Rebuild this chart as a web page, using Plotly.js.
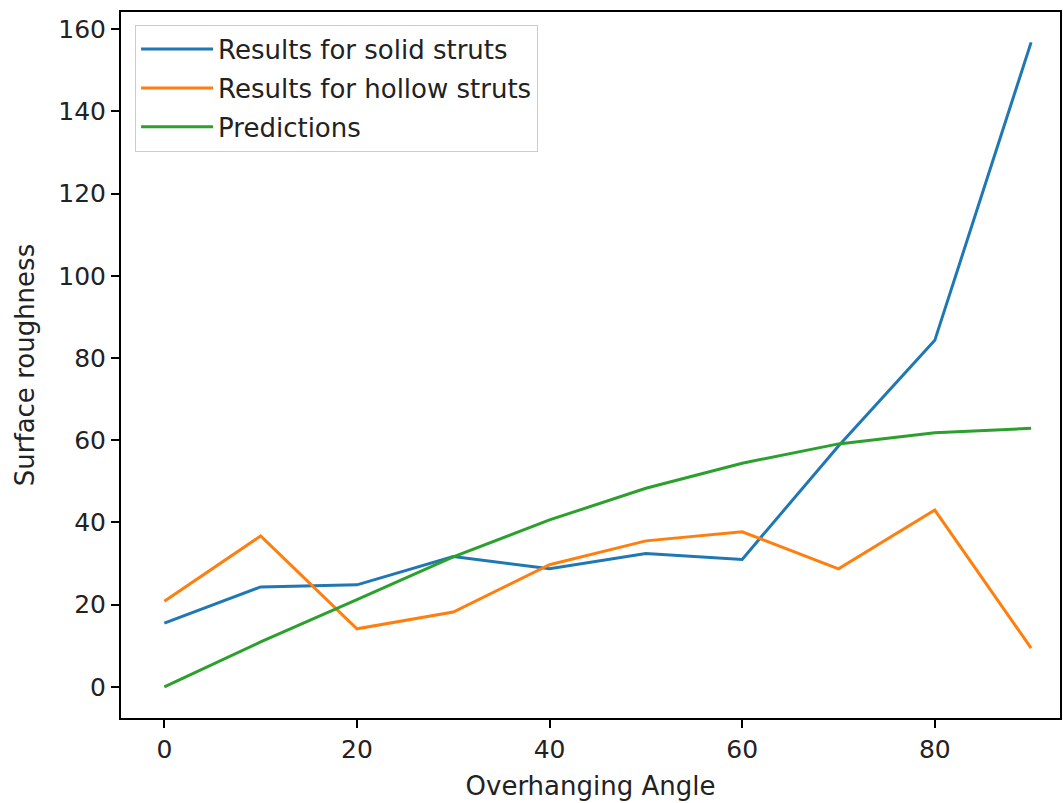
<!DOCTYPE html>
<html>
<head>
<meta charset="utf-8">
<script src="https://cdn.plot.ly/plotly-3.0.1.min.js"></script>
<style>html,body{margin:0;padding:0;background:#fff;}#chart{width:1063px;height:803px;}</style>
</head>
<body>
<div id="chart"></div>
<script>
const angles = [0, 10, 20, 30, 40, 50, 60, 70, 80, 90];
const solidStruts = [15.5, 24.3, 24.8, 31.7, 28.7, 32.4, 31.0, 58.6, 84.3, 156.8];
const hollowStruts = [20.8, 36.7, 14.1, 18.2, 29.7, 35.5, 37.7, 28.7, 43.0, 9.4];
const predictions = [0, 10.9, 21.2, 31.6, 40.6, 48.3, 54.4, 59.1, 61.8, 62.9];
const seriesNames = ["Results for solid struts", "Results for hollow struts", "Predictions"];
const xTicks = [0, 20, 40, 60, 80];
const yTicks = [0, 20, 40, 60, 80, 100, 120, 140, 160];

const colors = ["#1f77b4", "#ff7f0e", "#2ca02c"];
const seriesData = [solidStruts, hollowStruts, predictions];
const traces = seriesData.map((ys, i) => ({
  x: angles, y: ys, type: "scatter", mode: "lines", name: seriesNames[i],
  legendgroup: "g" + i,
  line: {color: colors[i], width: 3}
}));

const font = {family: "DejaVu Sans", size: 25, color: "#222"};
const axisCommon = {
  showgrid: false, zeroline: false, showline: true, mirror: true,
  linecolor: "#000", linewidth: 2, ticks: "outside", ticklen: 8, tickwidth: 2,
  tickcolor: "#000", tickfont: font
};
const layout = {
  width: 1063, height: 803,
  margin: {l: 121, r: 3, t: 12, b: 85},
  paper_bgcolor: "#fff", plot_bgcolor: "#fff",
  font: font,
  showlegend: true,
  legend: {
    x: 0.015, y: 0.982, xanchor: "left", yanchor: "top",
    traceorder: "grouped", tracegroupgap: 2, itemwidth: 72,
    bgcolor: "rgba(255,255,255,0.8)", bordercolor: "#cccccc", borderwidth: 1,
    font: {family: "DejaVu Sans", size: 26, color: "#222"}
  },
  xaxis: Object.assign({}, axisCommon, {
    range: [-4.5, 93.0], tickvals: xTicks, ticktext: xTicks.map(String),
    title: {text: "Overhanging Angle", font: {family: "DejaVu Sans", size: 26, color: "#222"}, standoff: 14}
  }),
  yaxis: Object.assign({}, axisCommon, {
    range: [-7.6, 164.2], tickvals: yTicks, ticktext: yTicks.map(String),
    title: {text: "Surface roughness", font: {family: "DejaVu Sans", size: 26, color: "#222"}, standoff: 16}
  })
};
Plotly.newPlot("chart", traces, layout, {displayModeBar: false, staticPlot: true});
</script>
</body>
</html>
